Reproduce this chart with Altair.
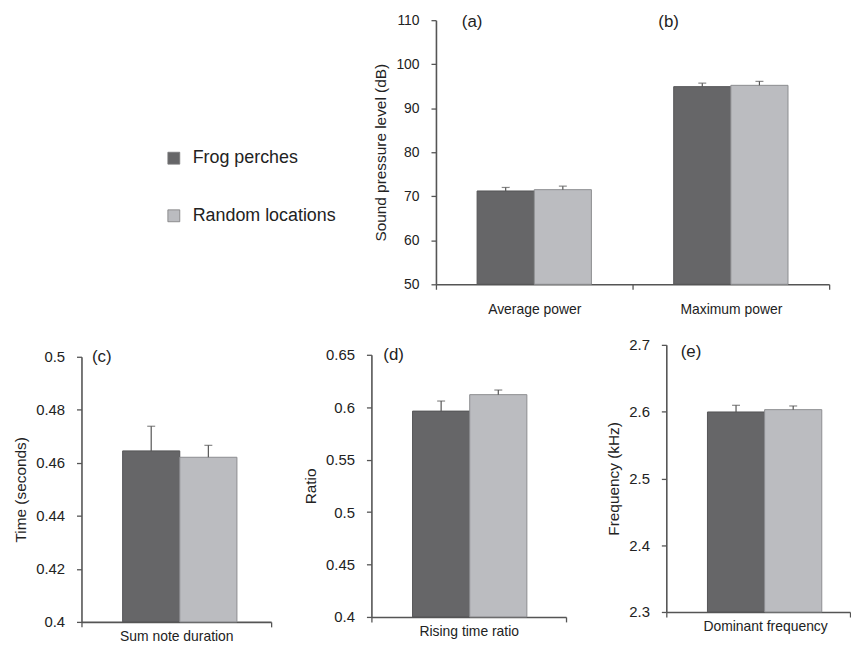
import altair as alt
import pandas as pd

# ---------------- data ----------------
series = ["Frog perches", "Random locations"]
fill_colors = ["#666668", "#bbbcc0"]
stroke_colors = ["#555557", "#8c8d90"]

ab_categories = ["Average power", "Maximum power"]
ab_frog = [71.2, 94.9]
ab_frog_err = [0.8, 0.8]
ab_random = [71.5, 95.2]
ab_random_err = [0.8, 0.9]
ab_panel_labels = ["(a)", "(b)"]
ab_ticks = [50, 60, 70, 80, 90, 100, 110]

c_category = ["Sum note duration"]
c_values = [0.4645, 0.4621]
c_errors = [0.0093, 0.0045]
c_ticks = [0.4, 0.42, 0.44, 0.46, 0.48, 0.5]

d_category = ["Rising time ratio"]
d_values = [0.5963, 0.6120]
d_errors = [0.0096, 0.0044]
d_ticks = [0.4, 0.45, 0.5, 0.55, 0.6, 0.65]

e_category = ["Dominant frequency"]
e_values = [2.5995, 2.6030]
e_errors = [0.0100, 0.0055]
e_ticks = [2.3, 2.4, 2.5, 2.6, 2.7]

FONT = "Liberation Sans"
TEXT = "#222222"
AXIS = "#555555"


def frame(categories, frog, frog_err, rnd, rnd_err):
    rows = []
    for i, cat in enumerate(categories):
        rows.append({"category": cat, "series": series[0], "value": frog[i], "upper": frog[i] + frog_err[i]})
        rows.append({"category": cat, "series": series[1], "value": rnd[i], "upper": rnd[i] + rnd_err[i]})
    return pd.DataFrame(rows)


def panel(df, labels_df, ymin, ymax, ticks, ytitle, width, height, yrange,
          off_pad, off_align, label_dx, label_dy, tick_font, title_font,
          x_label_offset=0, x_label_pad=6):
    if yrange is not None:
        yscale = alt.Scale(domain=[ymin, ymax], nice=False, zero=False, range=yrange)
    else:
        yscale = alt.Scale(domain=[ymin, ymax], nice=False, zero=False)
    cats = list(dict.fromkeys(df["category"]))
    xscale = alt.Scale(domain=cats, paddingInner=0, paddingOuter=0)
    x = alt.X("category:N", scale=xscale, sort=cats, title=None,
              axis=alt.Axis(tickBand="extent", labelAngle=0, labelFontSize=14,
                            labelPadding=x_label_pad, tickSize=5, labelOffset=x_label_offset))
    xo = alt.XOffset("series:N", sort=series,
                     scale=alt.Scale(domain=series, paddingInner=0, paddingOuter=off_pad, align=off_align))
    yaxis = alt.Axis(values=ticks, format="~r", title=ytitle, labelFontSize=tick_font,
                     titleFontSize=title_font, labelPadding=12, titlePadding=7, tickSize=5)
    base = alt.Chart(df)
    bars = base.mark_bar(strokeWidth=1).encode(
        x=x, xOffset=xo,
        y=alt.Y("value:Q", scale=yscale, axis=yaxis),
        y2=alt.datum(ymin),
        color=alt.Color("series:N", scale=alt.Scale(domain=series, range=fill_colors), legend=None),
        stroke=alt.Stroke("series:N", scale=alt.Scale(domain=series, range=stroke_colors), legend=None),
    )
    err = base.mark_rule(color=AXIS, strokeWidth=1.2).encode(
        x=x, xOffset=xo, y=alt.Y("value:Q"), y2=alt.Y2("upper:Q"))
    cap = base.mark_tick(color=AXIS, thickness=1.2, size=8).encode(
        x=x, xOffset=xo, y=alt.Y("upper:Q"))
    txt = alt.Chart(labels_df).mark_text(align="left", baseline="middle", fontSize=17,
                                         color=TEXT, dx=label_dx, dy=label_dy).encode(
        x=alt.X("category:N", scale=xscale, sort=cats),
        y=alt.Y("ypos:Q"),
        text="label:N",
    )
    return alt.layer(bars, err, cap, txt).properties(width=width, height=height)


# ---- top panel (a)/(b)
ab_df = frame(ab_categories, ab_frog, ab_frog_err, ab_random, ab_random_err)
ab_lab = pd.DataFrame({"category": ab_categories, "label": ab_panel_labels, "ypos": [110, 110]})
ab_chart = panel(ab_df, ab_lab, 50, 110, ab_ticks, "Sound pressure level (dB)", 396, 266, None,
                 0.72, 0.5, -73, 2, 14, 15.5, x_label_pad=13)

# ---- bottom panels
c_df = frame(c_category, [c_values[0]], [c_errors[0]], [c_values[1]], [c_errors[1]])
c_lab = pd.DataFrame({"category": c_category, "label": ["(c)"], "ypos": [0.5]})
c_chart = panel(c_df, c_lab, 0.4, 0.5, c_ticks, "Time (seconds)", 191, 279, [279, 12],
                0.752, 0.5, -85, 0, 15, 15.5, x_label_pad=3)

d_df = frame(d_category, [d_values[0]], [d_errors[0]], [d_values[1]], [d_errors[1]])
d_lab = pd.DataFrame({"category": d_category, "label": ["(d)"], "ypos": [0.65]})
d_chart = panel(d_df, d_lab, 0.4, 0.65, d_ticks, "Ratio", 196, 274, [274, 10],
                0.766, 0.5, -86, 0, 15, 15.5, x_label_pad=3)

e_df = frame(e_category, [e_values[0]], [e_errors[0]], [e_values[1]], [e_errors[1]])
e_lab = pd.DataFrame({"category": e_category, "label": ["(e)"], "ypos": [2.7]})
e_chart = panel(e_df, e_lab, 2.3, 2.7, e_ticks, "Frequency (kHz)", 185, 269, None,
                0.667, 0.6, -78, 7, 15, 15.5, x_label_offset=7, x_label_pad=3)

# ---- legend holder
legend_chart = alt.Chart(pd.DataFrame({"series": series})).mark_square(opacity=0).encode(
    color=alt.Color("series:N", sort=series,
                    scale=alt.Scale(domain=series, range=fill_colors),
                    legend=alt.Legend(orient="none", legendX=84, legendY=130, title=None,
                                      symbolType="square", symbolSize=144, symbolOpacity=1,
                                      symbolStrokeColor="#7a7a7d", symbolStrokeWidth=0.8,
                                      labelFontSize=18, labelColor=TEXT, labelOffset=10,
                                      rowPadding=40, padding=0)),
).properties(width=270, height=266)

top_row = alt.hconcat(legend_chart, ab_chart, spacing=87, bounds="flush").resolve_scale(
    color="independent", stroke="independent").resolve_legend(color="independent", stroke="independent")
bottom_row = alt.hconcat(c_chart, d_chart, e_chart, spacing=101, bounds="flush").resolve_scale(
    color="independent", stroke="independent", y="independent", x="independent").resolve_legend(
    color="independent", stroke="independent")

chart = alt.vconcat(top_row, bottom_row, spacing=22).resolve_scale(
    color="independent", stroke="independent").resolve_legend(
    color="independent", stroke="independent").properties(
    padding={"left": 5, "top": 3, "right": 0, "bottom": 0}
).configure(font=FONT).configure_view(stroke=None).configure_axis(
    grid=False, domainColor=AXIS, domainWidth=1.6, tickColor=AXIS, tickWidth=1.3,
    labelColor=TEXT, titleColor=TEXT, labelFont=FONT, titleFont=FONT, titleFontWeight="normal"
).configure_legend(labelFont=FONT)

chart.save("out.html", embed_options={"renderer": "svg", "actions": False})
